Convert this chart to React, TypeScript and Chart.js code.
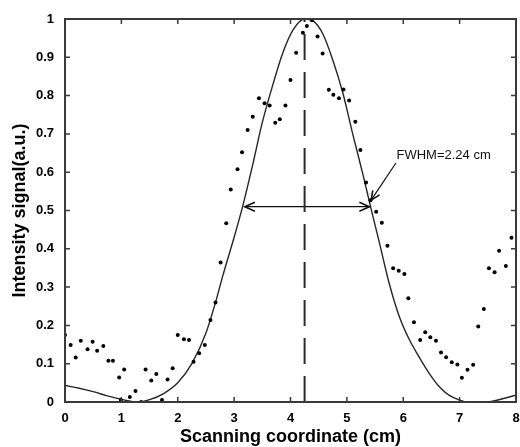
import React, { useEffect, useRef } from 'react';
import { Chart, registerables } from 'chart.js';

Chart.register(...registerables);

// Measured intensity samples
const scatterX = [
  0.0, 0.1, 0.19, 0.28, 0.4, 0.49, 0.57, 0.68, 0.77, 0.85, 0.96, 0.99, 1.05, 1.15, 1.25, 1.35,
  1.43, 1.53, 1.62, 1.72, 1.82, 1.91, 2.0, 2.11, 2.2, 2.28, 2.38, 2.48, 2.58, 2.67, 2.76, 2.86,
  2.94, 3.06, 3.14, 3.24, 3.33, 3.44, 3.54, 3.63, 3.73, 3.81, 3.91, 4.0, 4.1, 4.22, 4.29, 4.38,
  4.48, 4.57, 4.68, 4.76, 4.86, 4.94, 5.04, 5.15, 5.24, 5.34, 5.42, 5.52, 5.62, 5.72, 5.82, 5.92,
  6.02, 6.09, 6.19, 6.3, 6.39, 6.48, 6.58, 6.67, 6.76, 6.86, 6.96, 7.04, 7.14, 7.24, 7.33, 7.43,
  7.52, 7.62, 7.7, 7.82, 7.92,
];
const scatterY = [
  0.175, 0.149, 0.116, 0.16, 0.138, 0.157, 0.134, 0.146, 0.108, 0.108, 0.064, 0.005, 0.085, 0.013, 0.029, 0.0,
  0.085, 0.056, 0.073, 0.005, 0.059, 0.088, 0.175, 0.164, 0.162, 0.105, 0.127, 0.149, 0.214, 0.26, 0.364, 0.467,
  0.555, 0.608, 0.652, 0.71, 0.745, 0.793, 0.78, 0.774, 0.729, 0.738, 0.774, 0.841, 0.912, 0.964, 0.982, 0.997,
  0.954, 0.91, 0.815, 0.802, 0.793, 0.816, 0.787, 0.732, 0.658, 0.573, 0.527, 0.497, 0.468, 0.408, 0.349, 0.343,
  0.334, 0.271, 0.208, 0.162, 0.182, 0.169, 0.16, 0.129, 0.117, 0.104, 0.098, 0.063, 0.084, 0.097, 0.197, 0.243,
  0.349, 0.339, 0.395, 0.355, 0.429,
];

// Fitted curve
const fitX = [
  0, 0.25, 0.5, 0.75, 1.0, 1.3, 1.5, 1.75, 2.0, 2.25, 2.5, 2.67, 2.8, 3.0, 3.15, 3.33, 3.5, 3.69,
  3.86, 4.04, 4.25, 4.4, 4.57, 4.75, 4.93, 5.1, 5.28, 5.42, 5.58, 5.75, 5.93, 6.1, 6.28, 6.46,
  6.64, 6.81, 7.0, 7.15, 7.5, 7.7, 7.88, 8.0,
];
const fitY = [
  0.043, 0.036, 0.027, 0.016, 0.007, 0.0, 0.006, 0.022, 0.05, 0.1, 0.18, 0.26, 0.33, 0.43, 0.51, 0.62, 0.73, 0.83,
  0.91, 0.97, 1.0, 0.995, 0.962, 0.893, 0.806, 0.702, 0.597, 0.51, 0.414, 0.31, 0.223, 0.165, 0.118, 0.075,
  0.04, 0.018, 0.005, 0.0, 0.0, 0.006, 0.013, 0.018,
];

// Peak marker and FWHM
const peakX = [4.25, 4.25];
const peakY = [0, 1];
const fwhmX = [3.19, 5.4];
const fwhmY = [0.51, 0.51];
const noteText = 'FWHM=2.24 cm';
const noteAt = [5.88, 0.645];
const noteArrowFrom = [5.87, 0.624];
const noteArrowTo = [5.43, 0.527];

const xTitle = 'Scanning coordinate (cm)';
const yTitle = 'Intensity signal(a.u.)';

const FONT = '"Liberation Sans", Arial, Helvetica, sans-serif';

function arrowHead(ctx: CanvasRenderingContext2D, x0: number, y0: number, x1: number, y1: number, len: number) {
  const a = Math.atan2(y1 - y0, x1 - x0);
  const spread = 0.42;
  ctx.beginPath();
  ctx.moveTo(x1 - len * Math.cos(a - spread), y1 - len * Math.sin(a - spread));
  ctx.lineTo(x1, y1);
  ctx.lineTo(x1 - len * Math.cos(a + spread), y1 - len * Math.sin(a + spread));
  ctx.stroke();
}

const framePlugin = {
  id: 'matlabFrame',
  afterDatasetsDraw(chart: any) {
    const { ctx, chartArea: ca, scales } = chart;
    const xs = scales.x;
    const ys = scales.y;
    ctx.save();
    // box
    ctx.strokeStyle = '#3a3a3a';
    ctx.lineWidth = 2;
    ctx.strokeRect(ca.left, ca.top, ca.right - ca.left, ca.bottom - ca.top);
    // inward ticks
    ctx.lineWidth = 1.5;
    const tl = 5;
    xs.ticks.forEach((t: any) => {
      const px = xs.getPixelForValue(t.value);
      ctx.beginPath();
      ctx.moveTo(px, ca.bottom);
      ctx.lineTo(px, ca.bottom - tl);
      ctx.moveTo(px, ca.top);
      ctx.lineTo(px, ca.top + tl);
      ctx.stroke();
    });
    ys.ticks.forEach((t: any) => {
      const py = ys.getPixelForValue(t.value);
      ctx.beginPath();
      ctx.moveTo(ca.left, py);
      ctx.lineTo(ca.left + tl, py);
      ctx.moveTo(ca.right, py);
      ctx.lineTo(ca.right - tl, py);
      ctx.stroke();
    });
    // FWHM arrow heads
    ctx.strokeStyle = '#111';
    ctx.lineWidth = 1.6;
    const lx = xs.getPixelForValue(fwhmX[0]);
    const rx = xs.getPixelForValue(fwhmX[1]);
    const hy = ys.getPixelForValue(fwhmY[0]);
    arrowHead(ctx, rx, hy, lx, hy, 11);
    arrowHead(ctx, lx, hy, rx, hy, 11);
    // annotation arrow
    const ax0 = xs.getPixelForValue(noteArrowFrom[0]);
    const ay0 = ys.getPixelForValue(noteArrowFrom[1]);
    const ax1 = xs.getPixelForValue(noteArrowTo[0]);
    const ay1 = ys.getPixelForValue(noteArrowTo[1]);
    ctx.lineWidth = 1.2;
    ctx.beginPath();
    ctx.moveTo(ax0, ay0);
    ctx.lineTo(ax1, ay1);
    ctx.stroke();
    ctx.lineWidth = 1.6;
    arrowHead(ctx, ax0, ay0, ax1, ay1, 10);
    // annotation text
    ctx.fillStyle = '#111';
    ctx.font = '13px ' + FONT;
    ctx.textAlign = 'left';
    ctx.textBaseline = 'middle';
    ctx.fillText(noteText, xs.getPixelForValue(noteAt[0]), ys.getPixelForValue(noteAt[1]));
    ctx.restore();
  },
};

export default function App() {
  const ref = useRef<HTMLCanvasElement | null>(null);
  useEffect(() => {
    document.body.style.margin = '0';
    const canvas = ref.current;
    if (!canvas) return;
    const pts = (xs: number[], ys: number[]) => xs.map((x, i) => ({ x, y: ys[i] }));
    const chart = new Chart(canvas, {
      type: 'scatter',
      data: {
        datasets: [
          {
            type: 'scatter',
            data: pts(scatterX, scatterY),
            pointRadius: 2,
            pointStyle: 'circle',
            backgroundColor: '#000',
            borderColor: '#000',
            borderWidth: 0,
          },
          {
            type: 'line',
            data: pts(fitX, fitY),
            borderColor: '#262626',
            borderWidth: 1.4,
            pointRadius: 0,
            fill: false,
            cubicInterpolationMode: 'monotone',
          },
          {
            type: 'line',
            data: pts(peakX, peakY),
            borderColor: '#2a2a2a',
            borderWidth: 2,
            borderDash: [26, 12],
            pointRadius: 0,
            fill: false,
          },
          {
            type: 'line',
            data: pts(fwhmX, fwhmY),
            borderColor: '#111',
            borderWidth: 1.3,
            pointRadius: 0,
            fill: false,
          },
        ],
      },
      options: {
        animation: false,
        responsive: false,
        devicePixelRatio: 1,
        layout: { padding: { top: 19, right: 3, left: 0, bottom: 0 } },
        plugins: { legend: { display: false }, tooltip: { enabled: false } },
        scales: {
          x: {
            type: 'linear',
            min: 0,
            max: 8,
            ticks: {
              stepSize: 1,
              color: '#000',
              font: { family: FONT, size: 13, weight: 'bold' },
              padding: 9,
              callback: (v: any) => String(Math.round(Number(v))),
            },
            grid: { display: false, drawTicks: false },
            border: { display: false },
            title: {
              display: true,
              text: xTitle,
              color: '#000',
              font: { family: FONT, size: 18, weight: 'bold' },
              padding: { top: 0, bottom: -1 },
            },
            afterFit: (s: any) => {
              s.height = 45;
              s.paddingRight = 0;
              s.paddingLeft = 0;
            },
          },
          y: {
            type: 'linear',
            min: 0,
            max: 1,
            ticks: {
              stepSize: 0.1,
              color: '#000',
              font: { family: FONT, size: 13, weight: 'bold' },
              padding: 11,
              callback: (v: any) => String(Math.round(Number(v) * 10) / 10),
            },
            grid: { display: false, drawTicks: false },
            border: { display: false },
            title: {
              display: true,
              text: yTitle,
              color: '#000',
              font: { family: FONT, size: 18, weight: 'bold' },
              padding: { top: 9, bottom: 0 },
            },
            afterFit: (s: any) => {
              s.width = 65;
            },
          },
        },
      },
      plugins: [framePlugin],
    } as any);
    return () => chart.destroy();
  }, []);
  return <canvas ref={ref} width={520} height={447} style={{ display: 'block' }} />;
}
